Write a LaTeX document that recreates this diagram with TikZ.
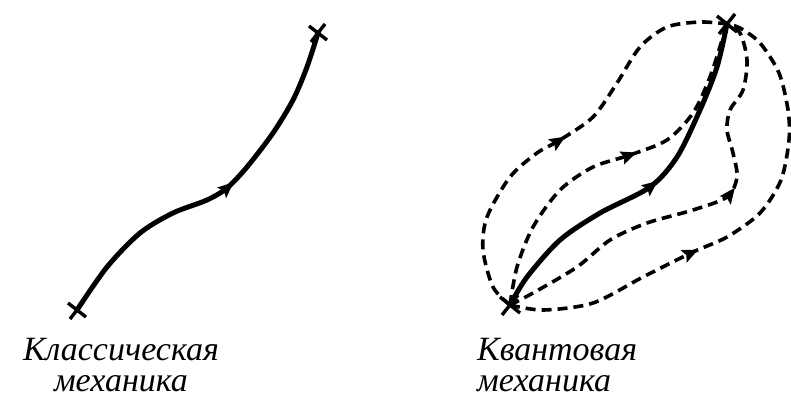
\documentclass[tikz,border=0pt]{standalone}
\usepackage{fontspec}
\setmainfont{Liberation Serif}
\usetikzlibrary{decorations.markings}
\begin{document}
\begin{tikzpicture}[x=1pt,y=-1pt,
  solidpath/.style={line width=5pt, line cap=round, line join=round},
  dpath/.style={line width=3.6pt, dash pattern=on 10pt off 6pt},
  midarrow/.style={postaction={decorate,decoration={markings,mark=at position #1 with {\fill (7pt,0pt) -- (-9pt,7pt) -- (-6pt,0pt) -- (-9pt,-7pt) -- cycle;}}}},
  lbl/.style={font=\itshape\fontsize{34}{31}\selectfont, inner sep=0pt},
  endmark/.style={line width=3.4pt}]
\useasboundingbox (0,0) rectangle (791,399);
% classical
\coordinate (A1) at (77,310);
\coordinate (B1) at (318,33);
\draw[solidpath, midarrow=200pt] plot[smooth] coordinates {(A1) (107,267) (140,233) (173,213) (207,200) (227,188) (247,167) (273,133) (293,100) (307,67) (B1)};
\draw[endmark] (A1) +(-9,-7) -- +(9,7) (A1) +(-7,9) -- +(7,-9);
\draw[endmark] (B1) +(-9,-7) -- +(9,7) (B1) +(-7,9) -- +(7,-9);
% quantum
\coordinate (A2) at (510,305);
\coordinate (B2) at (727,24);
\draw[solidpath, midarrow=190pt] plot[smooth] coordinates {(A2) (527,277) (560,240) (600,213) (650,187) (677,157) (700,110) (717,67) (B2)};
\draw[dpath, midarrow=205pt] plot[smooth] coordinates {(A2) (493,287) (483,250) (487,217) (510,177) (537,153) (560,140) (593,117) (617,83) (640,47) (667,27) (700,22) (B2)};
\draw[dpath, midarrow=207pt] plot[smooth] coordinates {(A2) (517,267) (533,227) (560,190) (593,167) (630,155) (667,140) (693,113) (710,77) (723,37) (B2)};
\draw[dpath, midarrow=250pt] plot[smooth] coordinates {(A2) (533,293) (577,267) (610,240) (647,223) (693,210) (727,197) (737,177) (733,153) (727,130) (730,110) (743,90) (747,60) (740,33) (B2)};
\draw[dpath, midarrow=195pt] plot[smooth] coordinates {(A2) (543,310) (593,303) (643,277) (693,252) (727,237) (760,213) (781,180) (789,140) (788,110) (779,73) (760,43) (740,28) (B2)};
\draw[endmark] (A2) +(-10,-8) -- +(10,8) (A2) +(-8,10) -- +(8,-10);
\draw[endmark] (B2) +(-10,-8) -- +(10,8) (B2) +(-8,10) -- +(8,-10);
% labels
\node[lbl, align=center, anchor=north] (cl) at (121,338) {Классическая\\механика};
\node[lbl, align=left, anchor=north west] (q) at (477,338) {Квантовая\\механика};
\end{tikzpicture}
\end{document}
